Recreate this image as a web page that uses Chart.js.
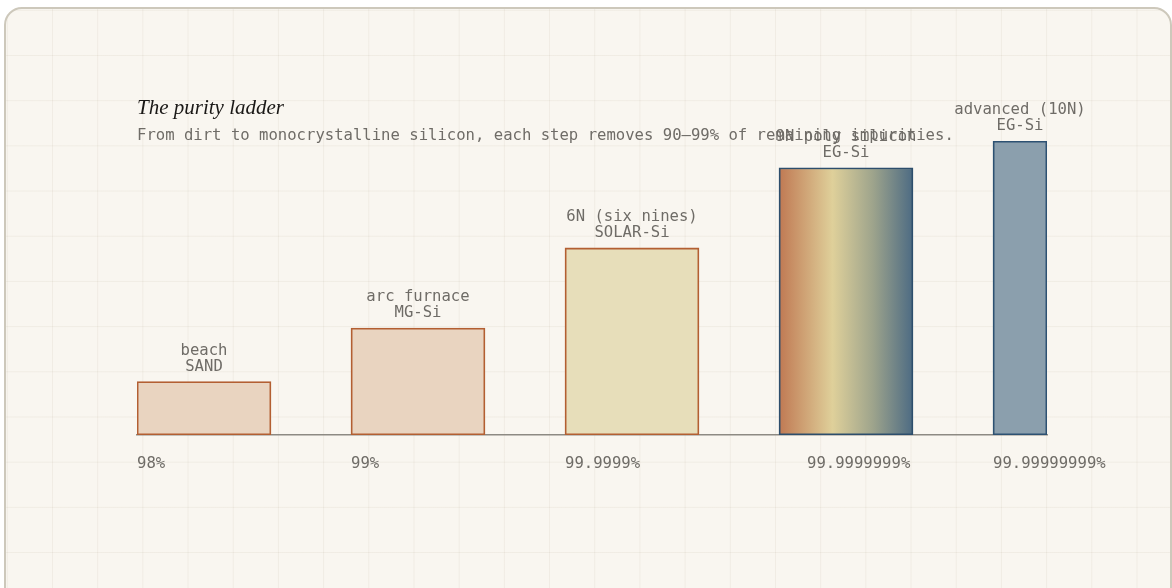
<!DOCTYPE html>
<html>
<head>
<meta charset="utf-8">
<script src="https://cdn.jsdelivr.net/npm/chart.js@4"></script>
<style>
  html, body { margin: 0; padding: 0; background: #fff; overflow: hidden; }
  #card {
    position: absolute; left: 4px; top: 7px; width: 1164px; height: 620px;
    border: 2px solid #cdc8bb; border-radius: 18px;
    background-color: #f9f6f0;
    background-image:
      linear-gradient(to right, rgba(150,130,100,0.085) 1px, transparent 1px),
      linear-gradient(to bottom, rgba(150,130,100,0.085) 1px, transparent 1px);
    background-size: 45.2px 45.2px;
    background-position: 0.8px 0.8px;
  }
  canvas { position: absolute; left: 0; top: 0; }
</style>
</head>
<body>
<div id="card"></div>
<canvas id="ladder" width="1172" height="588"></canvas>
<script>
// data
const stages = ["beach", "arc furnace", "6N (six nines)", "9N poly silicon", "advanced (10N)"];
const materials = ["SAND", "MG-Si", "SOLAR-Si", "EG-Si", "EG-Si"];
const purity = ["98%", "99%", "99.9999%", "99.9999999%", "99.99999999%"];
const rung = [2, 4, 7, 10, 11];

const fills = ["#e9d4c0", "#e9d4c0", "#e7deba", null, "#8b9fad"];
const borders = ["#b35f32", "#b35f32", "#b35f32", "#2d4e6c", "#2d5172"];

const SLOT = 214;   // px between rungs
const BAR_W = 134;
const LAST_W = 54;  // last bar is still growing in

const mono = '15.6px "DejaVu Sans Mono", monospace';
const grey = "#6f6c67";

function gradFill(c) {
  const chart = c.chart;
  if (!chart.chartArea) return "#d8c39a";
  const x = chart.scales.x.getPixelForValue(c.raw.x);
  const g = chart.ctx.createLinearGradient(x - BAR_W / 2, 0, x + BAR_W / 2, 0);
  g.addColorStop(0, "#c07953");
  g.addColorStop(0.4, "#dfd09a");
  g.addColorStop(0.7, "#9ea48c");
  g.addColorStop(1, "#4d6b83");
  return g;
}

const points = rung.map((v, i) => ({
  x: i + (i < 4 ? BAR_W : LAST_W) / 2 / SLOT,
  y: v,
  i: i
}));

const textPlugin = {
  id: "ladderText",
  beforeDatasetsDraw(chart) {
    const ctx = chart.ctx;
    ctx.save();
    ctx.textBaseline = "alphabetic";
    ctx.textAlign = "left";
    ctx.fillStyle = "#1a1816";
    ctx.font = 'italic 21px "Liberation Serif", serif';
    ctx.fillText("The purity ladder", 137, 114);
    ctx.fillStyle = grey;
    ctx.font = mono;
    ctx.fillText("From dirt to monocrystalline silicon, each step removes 90\u201399% of remaining impurities.", 137, 140);
    ctx.restore();
  },
  afterDatasetsDraw(chart) {
    const ctx = chart.ctx;
    ctx.save();
    ctx.font = mono;
    ctx.fillStyle = grey;
    ctx.textBaseline = "alphabetic";
    chart.data.datasets.forEach((ds, d) => {
      chart.getDatasetMeta(d).data.forEach((bar, j) => {
        const i = ds.data[j].i;
        const top = bar.y;
        ctx.textAlign = "center";
        ctx.fillText(stages[i], bar.x, top - 27);
        ctx.fillText(materials[i], bar.x, top - 11);
        ctx.textAlign = "left";
        const left = bar.x - bar.width / 2 + (i === 3 ? 28 : 0);
        ctx.fillText(purity[i], left, 468);
      });
    });
    ctx.restore();
  }
};

new Chart(document.getElementById("ladder"), {
  type: "bar",
  data: {
    datasets: [
      {
        data: points.slice(0, 4),
        barThickness: BAR_W,
        grouped: false,
        borderWidth: 1.8,
        borderSkipped: false,
        backgroundColor: c => c.dataIndex === 3 ? gradFill(c) : fills[c.dataIndex],
        borderColor: borders.slice(0, 4)
      },
      {
        data: points.slice(4),
        barThickness: LAST_W,
        grouped: false,
        borderWidth: 1.8,
        borderSkipped: false,
        backgroundColor: fills[4],
        borderColor: borders[4]
      }
    ]
  },
  options: {
    responsive: false,
    animation: false,
    devicePixelRatio: 1,
    layout: { padding: { left: 137, right: 125, top: 141, bottom: 153 } },
    plugins: { legend: { display: false }, tooltip: { enabled: false } },
    scales: {
      x: {
        type: "linear",
        offset: false,
        min: 0,
        max: 4 + LAST_W / SLOT,
        grid: { display: false, drawTicks: false },
        ticks: { display: false },
        border: { display: true, color: "#8d8a83", width: 1.5 }
      },
      y: {
        display: false,
        min: 0,
        max: 11
      }
    }
  },
  plugins: [textPlugin]
});
</script>
</body>
</html>
